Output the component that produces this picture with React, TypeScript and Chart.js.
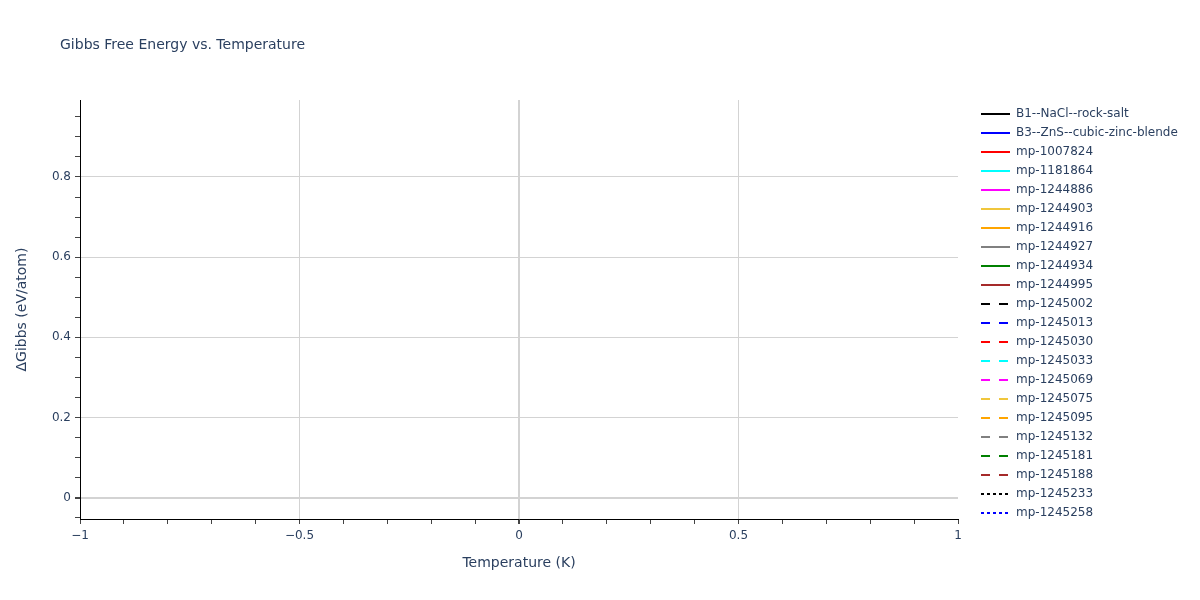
import { useEffect, useRef } from "react";
import { Chart, registerables } from "chart.js";

Chart.register(...registerables);

const SERIES_NAMES = [
  "B1--NaCl--rock-salt",
  "B3--ZnS--cubic-zinc-blende",
  "mp-1007824",
  "mp-1181864",
  "mp-1244886",
  "mp-1244903",
  "mp-1244916",
  "mp-1244927",
  "mp-1244934",
  "mp-1244995",
  "mp-1245002",
  "mp-1245013",
  "mp-1245030",
  "mp-1245033",
  "mp-1245069",
  "mp-1245075",
  "mp-1245095",
  "mp-1245132",
  "mp-1245181",
  "mp-1245188",
  "mp-1245233",
  "mp-1245258",
];

const PALETTE = ["#000000", "#0000ff", "#ff0000", "#00ffff", "#ff00ff", "#f0c63c", "#ffa500", "#808080", "#008000", "#a52a2a"];
const DASHES: Record<string, number[]> = { solid: [], dash: [9, 9], dot: [3, 3] };
const SERIES_DASH = SERIES_NAMES.map((_, i) => (i < 10 ? "solid" : i < 20 ? "dash" : "dot"));

// no temperature points at all in the source: every trace is empty
const SERIES_POINTS: { x: number; y: number }[][] = SERIES_NAMES.map(() => []);

const X_MIN = -1;
const X_MAX = 1;
const Y_MIN = -0.053;
const Y_MAX = 0.992;

const TEXT = "#2a3f5f";
const FONT = "'DejaVu Sans', Verdana, sans-serif";
const GRID = "#d3d3d3";

const isMult = (v: number, step: number) => Math.abs(v / step - Math.round(v / step)) < 1e-6;

const overlay = {
  id: "overlay",
  afterDraw(chart: Chart) {
    const { ctx } = chart;
    ctx.save();
    ctx.fillStyle = TEXT;
    ctx.textBaseline = "middle";
    ctx.font = `14px ${FONT}`;
    ctx.fillText("Gibbs Free Energy vs. Temperature", 60, 45);

    ctx.font = `12px ${FONT}`;
    chart.data.datasets.forEach((ds: any, i: number) => {
      const y = 114 + i * 19;
      ctx.beginPath();
      ctx.setLineDash(ds.borderDash || []);
      ctx.strokeStyle = ds.borderColor;
      ctx.lineWidth = 2;
      ctx.moveTo(981, y);
      ctx.lineTo(1010, y);
      ctx.stroke();
      ctx.setLineDash([]);
      ctx.fillStyle = TEXT;
      ctx.fillText(ds.label, 1016, y);
    });
    ctx.restore();
  },
};

export default function App() {
  const canvasRef = useRef<HTMLCanvasElement>(null);

  useEffect(() => {
    if (!canvasRef.current) return;
    const chart = new Chart(canvasRef.current, {
      type: "scatter",
      data: {
        datasets: SERIES_NAMES.map((name, i) => ({
          label: name,
          data: SERIES_POINTS[i],
          showLine: true,
          borderColor: PALETTE[i % 10],
          backgroundColor: PALETTE[i % 10],
          borderDash: DASHES[SERIES_DASH[i]],
          borderWidth: 2,
          pointRadius: 0,
        })),
      },
      options: {
        responsive: false,
        animation: false,
        layout: { padding: { left: 0, top: 100, right: 242, bottom: 0 } },
        plugins: { legend: { display: false }, tooltip: { enabled: false } },
        scales: {
          x: {
            type: "linear",
            min: X_MIN,
            max: X_MAX,
            afterFit: (s: any) => { s.height = 81; },
            border: { display: true, color: "#000", width: 1 },
            grid: {
              color: (c: any) => (isMult(c.tick.value, 0.5) && Math.abs(c.tick.value) < 0.99 ? GRID : "rgba(0,0,0,0)"),
              lineWidth: (c: any) => (Math.abs(c.tick.value) < 1e-6 ? 2 : 1),
              tickColor: "#444",
              tickLength: 5,
            },
            ticks: {
              stepSize: 0.1,
              autoSkip: false,
              maxRotation: 0,
              padding: 5,
              color: TEXT,
              font: { family: FONT, size: 12 },
              callback: (v: any) => {
                const n = Number(v);
                if (!isMult(n, 0.5)) return "";
                const r = Math.round(n * 10) / 10;
                return r < 0 ? "\u2212" + String(-r) : String(r);
              },
            },
            title: {
              display: true,
              text: "Temperature (K)",
              color: TEXT,
              font: { family: FONT, size: 14 },
              padding: { top: 0, bottom: 28.6 },
            },
          },
          y: {
            type: "linear",
            min: Y_MIN,
            max: Y_MAX,
            afterFit: (s: any) => { s.width = 80; },
            border: { display: true, color: "#000", width: 1 },
            grid: {
              color: (c: any) => (isMult(c.tick.value, 0.2) ? GRID : "rgba(0,0,0,0)"),
              lineWidth: (c: any) => (Math.abs(c.tick.value) < 1e-6 ? 2 : 1),
              tickColor: "#444",
              tickLength: 5,
            },
            ticks: {
              stepSize: 0.05,
              includeBounds: false,
              autoSkip: false,
              padding: 4,
              color: TEXT,
              font: { family: FONT, size: 12 },
              callback: (v: any) => {
                const n = Number(v);
                return isMult(n, 0.2) ? String(Math.round(n * 10) / 10) : "";
              },
            },
            title: {
              display: true,
              text: "ΔGibbs (eV/atom)",
              color: TEXT,
              font: { family: FONT, size: 14 },
              padding: { top: 13.6, bottom: 0 },
            },
          },
        },
      },
      plugins: [overlay],
    });
    return () => chart.destroy();
  }, []);

  return (
    <div style={{ position: "fixed", left: 0, top: 0, width: 1200, height: 600, background: "#fff" }}>
      <canvas ref={canvasRef} width={1200} height={600} />
    </div>
  );
}
